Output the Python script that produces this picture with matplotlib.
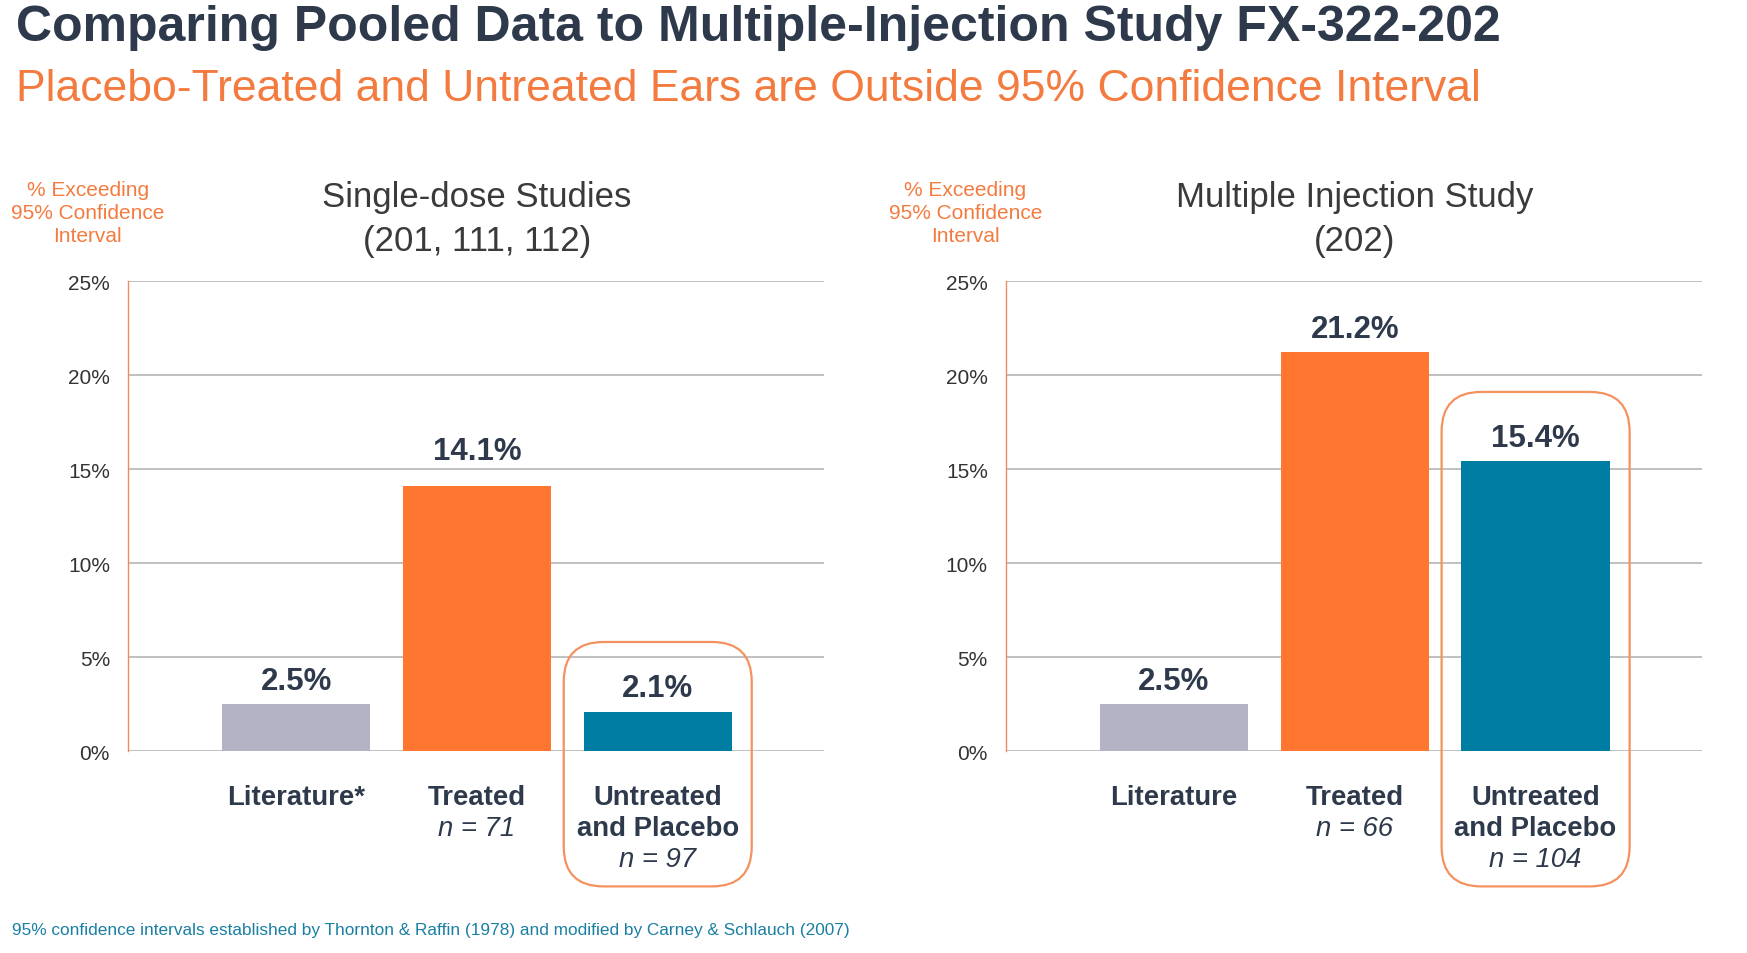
import matplotlib
matplotlib.use("Agg")
import matplotlib.pyplot as plt
from matplotlib.patches import FancyBboxPatch
import matplotlib.transforms as mtransforms

plt.rcParams['font.family'] = ['Liberation Sans', 'DejaVu Sans']

# ---- data ----
left_categories = ["Literature*", "Treated", "Untreated\nand Placebo"]
left_values = [2.5, 14.1, 2.1]
left_n = [None, "n = 71", "n = 97"]
right_categories = ["Literature", "Treated", "Untreated\nand Placebo"]
right_values = [2.5, 21.2, 15.4]
right_n = [None, "n = 66", "n = 104"]
yticks = [0, 5, 10, 15, 20, 25]
ytick_labels = ["0%", "5%", "10%", "15%", "20%", "25%"]
left_title = "Single-dose Studies\n(201, 111, 112)"
right_title = "Multiple Injection Study\n(202)"

bar_colors = ["#B4B3C6", "#FF7630", "#007DA3"]
NAVY = "#2E3A4B"
ORANGE = "#F47B3F"
TEAL = "#1A7FA3"

fig = plt.figure(figsize=(17.47, 9.54), dpi=100)

fig.text(0.009, 0.995, "Comparing Pooled Data to Multiple-Injection Study FX-322-202",
         fontsize=36, fontweight="bold", color=NAVY, va="top", ha="left")
fig.text(0.009, 0.928, "Placebo-Treated and Untreated Ears are Outside 95% Confidence Interval",
         fontsize=32, color=ORANGE, va="top", ha="left")
fig.text(0.007, 0.017, "95% confidence intervals established by Thornton & Raffin (1978) and modified by Carney & Schlauch (2007)",
         fontsize=12.4, color=TEAL, va="bottom", ha="left")


def panel(left, cats, vals, ns, title, offsets):
    ax = fig.add_axes([left, 0.2117, 0.3984, 0.4927])
    x = list(range(len(vals)))
    ax.bar(x, vals, width=0.82, color=bar_colors, zorder=3)
    ax.set_xlim(-0.93, 2.92)
    ax.set_ylim(0, 25)
    ax.set_yticks(yticks)
    ax.set_yticklabels(ytick_labels, fontsize=15, color="#333333")
    ax.tick_params(axis="y", length=0, pad=13)
    ax.set_xticks([])
    ax.grid(axis="y", color="#B5B5B5", linewidth=1.2, zorder=0)
    for s in ["top", "right", "bottom"]:
        ax.spines[s].set_visible(False)
    ax.spines["left"].set_color("#F08A5A")
    ax.spines["left"].set_linewidth(1.0)
    # value labels
    for xi, v, off in zip(x, vals, offsets):
        ax.annotate(f"{v}%", (xi, v), xytext=(0, off), textcoords="offset points",
                    ha="center", va="bottom", fontsize=22.5, fontweight="bold", color=NAVY)
    trans = mtransforms.blended_transform_factory(ax.transData, ax.transAxes)
    # category labels
    for xi, c, n in zip(x, cats, ns):
        ax.text(xi, -0.071, c, transform=trans, ha="center", va="top",
                fontsize=19.8, fontweight="bold", color=NAVY, linespacing=1.22)
        if n:
            nl = c.count("\n") + 1
            ax.text(xi, -0.071 - 0.0655 * nl, n, transform=trans, ha="center", va="top",
                    fontsize=19.8, fontstyle="italic", color=NAVY)
    # highlight box around last category
    last = len(vals) - 1
    top = vals[last] + 3.7
    bot = -7.2
    box = FancyBboxPatch((last - 0.52, bot), 1.04, top - bot,
                         boxstyle="round,pad=0,rounding_size=0.22",
                         mutation_aspect=25 / 0.4927 / 954 * 0.3984 * 1747 / 3.85,
                         fill=False, edgecolor="#F4925F", linewidth=1.6,
                         clip_on=False, zorder=4)
    ax.add_patch(box)
    # panel title
    ax.text(1, 1.052, title, transform=trans, ha="center", va="bottom",
            fontsize=25, color="#3A3A3A", linespacing=1.4)
    # y label
    ax.text(-0.058, 1.076, "% Exceeding\n95% Confidence\nInterval", transform=ax.transAxes,
            ha="center", va="bottom", fontsize=15, color=ORANGE, linespacing=1.27)
    return ax


panel(0.0733, left_categories, left_values, left_n, left_title, [6, 14, 6])
panel(0.5758, right_categories, right_values, right_n, right_title, [6, 6, 6])

fig.savefig("out.png", dpi=100)
